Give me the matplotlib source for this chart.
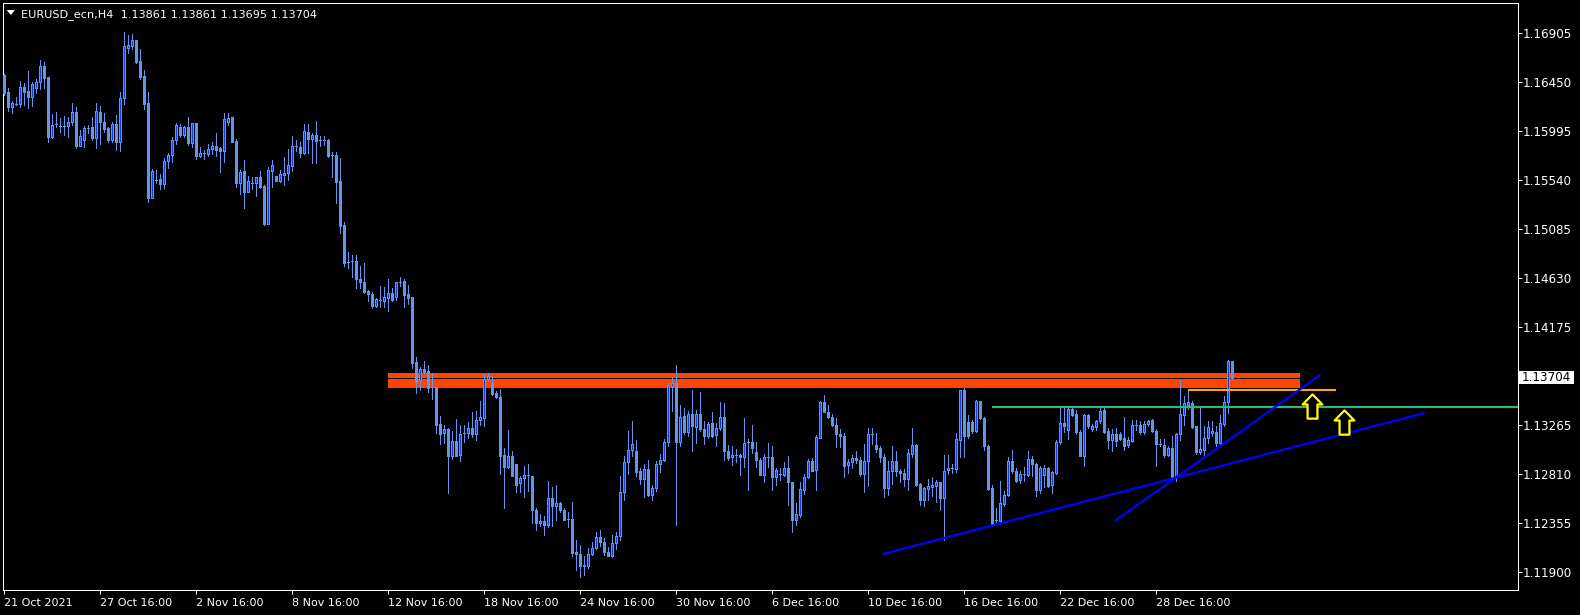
import matplotlib
matplotlib.use("Agg")
import matplotlib.pyplot as plt
import matplotlib.transforms as mtransforms
from matplotlib.patches import Polygon, Rectangle
from matplotlib.path import Path
import numpy as np

plt.rcParams['font.family'] = ['DejaVu Sans']

# EURUSD_ecn H4 candles, bar 0 = 21 Oct 2021
symbol = "EURUSD_ecn"
timeframe = "H4"

opens = [
    1.16518, 1.16359, 1.16218, 1.16251, 1.16251, 1.16406, 1.16369, 1.16317, 1.16394, 1.16450,
    1.16598, 1.16499, 1.15945, 1.16059, 1.16040, 1.16040, 1.16040, 1.16078, 1.16171, 1.15861,
    1.15910, 1.16028, 1.16034, 1.15935, 1.16171, 1.16081, 1.16025, 1.15917, 1.16059, 1.15892,
    1.16301, 1.16772, 1.16790, 1.16843, 1.16648, 1.16508, 1.16257, 1.15378, 1.15545, 1.15554,
    1.15508, 1.15719, 1.15774, 1.15910, 1.16037, 1.15960, 1.16031, 1.15882, 1.16072, 1.15768,
    1.15793, 1.15787, 1.15827, 1.15858, 1.15843, 1.15815, 1.16084, 1.16127, 1.15904, 1.15517,
    1.15626, 1.15434, 1.15511, 1.15511, 1.15566, 1.15486, 1.15133, 1.15629, 1.15579, 1.15532,
    1.15591, 1.15604, 1.15675, 1.15861, 1.15852, 1.15796, 1.15987, 1.15926, 1.15963, 1.15913,
    1.15913, 1.15913, 1.15774, 1.15774, 1.15532, 1.15124, 1.14780, 1.14787, 1.14787, 1.14622,
    1.14595, 1.14511, 1.14482, 1.14374, 1.14427, 1.14415, 1.14446, 1.14489, 1.14452, 1.14595,
    1.14601, 1.14482, 1.14452, 1.13851, 1.13684, 1.13783, 1.13765, 1.13616, 1.13616, 1.13275,
    1.13189, 1.13225, 1.12978, 1.13114, 1.12984, 1.13189, 1.13189, 1.13235, 1.13177, 1.13307,
    1.13331, 1.13691, 1.13653, 1.13565, 1.13523, 1.12983, 1.12872, 1.12977, 1.12903, 1.12723,
    1.12767, 1.12798, 1.12791, 1.12476, 1.12349, 1.12371, 1.12330, 1.12587, 1.12506, 1.12542,
    1.12476, 1.12389, 1.12389, 1.12079, 1.12067, 1.11961, 1.11949, 1.12060, 1.12117, 1.12222,
    1.12178, 1.12085, 1.12042, 1.12166, 1.12228, 1.12636, 1.12915, 1.13027, 1.13024, 1.12840,
    1.12760, 1.12856, 1.12614, 1.12677, 1.12900, 1.12936, 1.13104, 1.13628, 1.13653, 1.13101,
    1.13349, 1.13194, 1.13364, 1.13244, 1.13364, 1.13225, 1.13163, 1.13281, 1.13166, 1.13234,
    1.13336, 1.13024, 1.12962, 1.12983, 1.12987, 1.12962, 1.13101, 1.13107, 1.13015, 1.12941,
    1.12801, 1.12966, 1.12966, 1.12776, 1.12808, 1.12798, 1.12866, 1.12736, 1.12383, 1.12429,
    1.12662, 1.12779, 1.12931, 1.12841, 1.13145, 1.13479, 1.13386, 1.13340, 1.13266, 1.13182,
    1.13164, 1.12888, 1.12919, 1.12960, 1.12941, 1.12811, 1.12925, 1.13179, 1.13080, 1.13049,
    1.12966, 1.12674, 1.12832, 1.12931, 1.12838, 1.12820, 1.12764, 1.12996, 1.13077, 1.12715,
    1.12569, 1.12671, 1.12684, 1.12699, 1.12734, 1.12588, 1.12841, 1.12860, 1.12854, 1.13126,
    1.13591, 1.13294, 1.13287, 1.13204, 1.13482, 1.13327, 1.13071, 1.12677, 1.12382, 1.12368,
    1.12532, 1.12608, 1.12931, 1.12838, 1.12748, 1.12804, 1.12795, 1.12947, 1.12903, 1.12661,
    1.12801, 1.12862, 1.12702, 1.12816, 1.13101, 1.13281, 1.13219, 1.13411, 1.13364, 1.13201,
    1.12977, 1.13358, 1.13225, 1.13243, 1.13297, 1.13405, 1.13210, 1.13126, 1.13182, 1.13182,
    1.13145, 1.13074, 1.13113, 1.13262, 1.13262, 1.13194, 1.13268, 1.13311, 1.13210, 1.13088,
    1.13080, 1.12986, 1.13049, 1.12779, 1.13179, 1.13358, 1.13451, 1.13466, 1.13256, 1.13008,
    1.13027, 1.13138, 1.13188, 1.13194, 1.13094, 1.13275, 1.13473, 1.13861,
]
highs = [
    1.16524, 1.16394, 1.16276, 1.16313, 1.16461, 1.16440, 1.16555, 1.16450, 1.16480, 1.16657,
    1.16635, 1.16499, 1.16152, 1.16171, 1.16115, 1.16140, 1.16130, 1.16254, 1.16221, 1.16006,
    1.16040, 1.16053, 1.16127, 1.16254, 1.16232, 1.16161, 1.16037, 1.16078, 1.16146, 1.16356,
    1.16917, 1.16889, 1.16902, 1.16846, 1.16759, 1.16561, 1.16356, 1.15644, 1.15635, 1.15595,
    1.15750, 1.15793, 1.15942, 1.16072, 1.16066, 1.16047, 1.16130, 1.16075, 1.16075, 1.15849,
    1.15824, 1.15880, 1.15898, 1.15982, 1.15852, 1.16165, 1.16165, 1.16127, 1.15923, 1.15632,
    1.15731, 1.15582, 1.15566, 1.15566, 1.15626, 1.15496, 1.15665, 1.15728, 1.15579, 1.15635,
    1.15758, 1.15830, 1.15951, 1.15913, 1.15898, 1.16062, 1.16062, 1.15982, 1.16090, 1.15951,
    1.15951, 1.15920, 1.15805, 1.15805, 1.15743, 1.15155, 1.14870, 1.14845, 1.14845, 1.14743,
    1.14768, 1.14520, 1.14504, 1.14443, 1.14551, 1.14545, 1.14619, 1.14536, 1.14597, 1.14638,
    1.14619, 1.14567, 1.14458, 1.13900, 1.13801, 1.13854, 1.13823, 1.13746, 1.13616, 1.13343,
    1.13266, 1.13235, 1.13204, 1.13318, 1.13266, 1.13266, 1.13288, 1.13381, 1.13390, 1.13483,
    1.13740, 1.13746, 1.13720, 1.13581, 1.13596, 1.13049, 1.13218, 1.13024, 1.12903, 1.12791,
    1.12878, 1.12903, 1.12791, 1.12495, 1.12438, 1.12415, 1.12746, 1.12687, 1.12708, 1.12548,
    1.12495, 1.12451, 1.12550, 1.12197, 1.12150, 1.12048, 1.12120, 1.12178, 1.12265, 1.12290,
    1.12209, 1.12126, 1.12244, 1.12268, 1.12785, 1.12971, 1.13212, 1.13305, 1.13120, 1.12862,
    1.12903, 1.12940, 1.12708, 1.12925, 1.12996, 1.13132, 1.13653, 1.13714, 1.13822, 1.13451,
    1.13420, 1.13389, 1.13590, 1.13405, 1.13571, 1.13297, 1.13287, 1.13386, 1.13281, 1.13476,
    1.13466, 1.13080, 1.13071, 1.13040, 1.12996, 1.13330, 1.13132, 1.13266, 1.13107, 1.12960,
    1.12997, 1.13095, 1.13071, 1.12860, 1.12863, 1.12919, 1.12977, 1.12736, 1.12538, 1.12736,
    1.12811, 1.12950, 1.12956, 1.13173, 1.13489, 1.13545, 1.13451, 1.13368, 1.13327, 1.13225,
    1.13189, 1.12947, 1.12983, 1.13024, 1.12966, 1.13089, 1.13234, 1.13234, 1.13189, 1.13065,
    1.12997, 1.12925, 1.13071, 1.13018, 1.12853, 1.12853, 1.13043, 1.13234, 1.13090, 1.12724,
    1.12687, 1.12761, 1.12776, 1.12754, 1.12734, 1.12987, 1.12987, 1.12903, 1.13189, 1.13591,
    1.13606, 1.13359, 1.13306, 1.13491, 1.13482, 1.13333, 1.13080, 1.12708, 1.12491, 1.12738,
    1.12646, 1.12964, 1.13033, 1.12862, 1.12832, 1.12872, 1.13017, 1.12972, 1.12909, 1.12878,
    1.12894, 1.12869, 1.12832, 1.13120, 1.13420, 1.13420, 1.13420, 1.13420, 1.13405, 1.13219,
    1.13364, 1.13367, 1.13275, 1.13311, 1.13420, 1.13420, 1.13234, 1.13225, 1.13234, 1.13198,
    1.13342, 1.13151, 1.13306, 1.13311, 1.13297, 1.13297, 1.13311, 1.13317, 1.13225, 1.13132,
    1.13132, 1.13064, 1.13157, 1.13188, 1.13684, 1.13529, 1.13584, 1.13482, 1.13256, 1.13435,
    1.13250, 1.13297, 1.13297, 1.13250, 1.13358, 1.13529, 1.13869, 1.13861,
]
lows = [
    1.16332, 1.16183, 1.16168, 1.16238, 1.16223, 1.16238, 1.16214, 1.16232, 1.16347, 1.16384,
    1.16400, 1.15898, 1.15929, 1.16037, 1.15985, 1.15960, 1.15939, 1.16053, 1.15842, 1.15858,
    1.15846, 1.15976, 1.15917, 1.15842, 1.15874, 1.15985, 1.15898, 1.15892, 1.15824, 1.15812,
    1.16245, 1.16719, 1.16756, 1.16632, 1.16480, 1.16202, 1.15341, 1.15372, 1.15512, 1.15455,
    1.15465, 1.15650, 1.15706, 1.15877, 1.15945, 1.15942, 1.15868, 1.15852, 1.15738, 1.15758,
    1.15738, 1.15768, 1.15780, 1.15768, 1.15614, 1.15713, 1.16053, 1.15898, 1.15480, 1.15415,
    1.15279, 1.15427, 1.15455, 1.15397, 1.15464, 1.15124, 1.15130, 1.15480, 1.15532, 1.15526,
    1.15496, 1.15541, 1.15629, 1.15814, 1.15758, 1.15783, 1.15796, 1.15697, 1.15703, 1.15861,
    1.15867, 1.15758, 1.15573, 1.15325, 1.15047, 1.14746, 1.14721, 1.14638, 1.14535, 1.14535,
    1.14489, 1.14418, 1.14349, 1.14358, 1.14365, 1.14365, 1.14319, 1.14412, 1.14427, 1.14551,
    1.14359, 1.14390, 1.13792, 1.13560, 1.13591, 1.13746, 1.13566, 1.13505, 1.13189, 1.13089,
    1.13095, 1.12631, 1.12946, 1.12971, 1.12926, 1.13102, 1.13142, 1.13151, 1.13127, 1.13266,
    1.13257, 1.13685, 1.13543, 1.13510, 1.12810, 1.12488, 1.12862, 1.12785, 1.12636, 1.12636,
    1.12591, 1.12646, 1.12352, 1.12290, 1.12327, 1.12244, 1.12311, 1.12327, 1.12383, 1.12451,
    1.12376, 1.12311, 1.12042, 1.11912, 1.11850, 1.11871, 1.11930, 1.12054, 1.12110, 1.12142,
    1.12054, 1.12042, 1.12032, 1.12114, 1.12197, 1.12569, 1.12810, 1.12971, 1.12792, 1.12718,
    1.12594, 1.12606, 1.12569, 1.12646, 1.12823, 1.12930, 1.13064, 1.13398, 1.12336, 1.13064,
    1.13182, 1.13157, 1.13017, 1.13094, 1.13212, 1.13082, 1.13141, 1.13151, 1.13064, 1.13218,
    1.12939, 1.12939, 1.12894, 1.12916, 1.12801, 1.12872, 1.12655, 1.13002, 1.12872, 1.12801,
    1.12736, 1.12872, 1.12655, 1.12709, 1.12754, 1.12786, 1.12522, 1.12265, 1.12337, 1.12408,
    1.12624, 1.12770, 1.12831, 1.12655, 1.13139, 1.13380, 1.13324, 1.13256, 1.13055, 1.13058,
    1.12779, 1.12817, 1.12860, 1.12910, 1.12792, 1.12637, 1.12693, 1.13089, 1.13015, 1.12916,
    1.12594, 1.12615, 1.12718, 1.12792, 1.12729, 1.12693, 1.12655, 1.12966, 1.12699, 1.12522,
    1.12513, 1.12563, 1.12599, 1.12544, 1.12470, 1.12197, 1.12807, 1.12817, 1.12823, 1.12966,
    1.12966, 1.13139, 1.13188, 1.13194, 1.13317, 1.13033, 1.12655, 1.12336, 1.12352, 1.12358,
    1.12507, 1.12600, 1.12816, 1.12729, 1.12723, 1.12738, 1.12785, 1.12792, 1.12600, 1.12630,
    1.12686, 1.12686, 1.12630, 1.12810, 1.13088, 1.13194, 1.13132, 1.13349, 1.13182, 1.12971,
    1.12884, 1.13234, 1.13204, 1.13218, 1.13281, 1.13188, 1.13049, 1.13017, 1.13064, 1.13126,
    1.13033, 1.13058, 1.13101, 1.13218, 1.13182, 1.13182, 1.13256, 1.13194, 1.12884, 1.13064,
    1.12964, 1.12977, 1.12754, 1.12738, 1.13120, 1.13265, 1.13411, 1.13234, 1.12996, 1.12996,
    1.12971, 1.13094, 1.13163, 1.13064, 1.13080, 1.13250, 1.13374, 1.13695,
]
closes = [
    1.16347, 1.16223, 1.16254, 1.16251, 1.16406, 1.16362, 1.16317, 1.16431, 1.16450, 1.16598,
    1.16493, 1.15945, 1.16053, 1.16059, 1.16040, 1.16040, 1.16078, 1.16171, 1.15861, 1.15948,
    1.16022, 1.16028, 1.15929, 1.16180, 1.16084, 1.16019, 1.15917, 1.16059, 1.15892, 1.16301,
    1.16784, 1.16797, 1.16843, 1.16635, 1.16502, 1.16248, 1.15378, 1.15625, 1.15545, 1.15505,
    1.15719, 1.15774, 1.15910, 1.16053, 1.15960, 1.16031, 1.15882, 1.16072, 1.15768, 1.15793,
    1.15793, 1.15827, 1.15858, 1.15824, 1.15815, 1.16105, 1.16118, 1.15898, 1.15517, 1.15617,
    1.15434, 1.15532, 1.15511, 1.15566, 1.15480, 1.15133, 1.15635, 1.15681, 1.15532, 1.15598,
    1.15610, 1.15681, 1.15858, 1.15861, 1.15796, 1.15993, 1.15923, 1.15963, 1.15907, 1.15913,
    1.15913, 1.15764, 1.15774, 1.15526, 1.15114, 1.14774, 1.14780, 1.14787, 1.14625, 1.14589,
    1.14504, 1.14482, 1.14374, 1.14433, 1.14427, 1.14452, 1.14489, 1.14427, 1.14595, 1.14595,
    1.14476, 1.14446, 1.13839, 1.13659, 1.13783, 1.13759, 1.13607, 1.13616, 1.13266, 1.13183,
    1.13225, 1.12978, 1.13114, 1.12978, 1.13183, 1.13189, 1.13235, 1.13177, 1.13312, 1.13337,
    1.13691, 1.13722, 1.13553, 1.13519, 1.12977, 1.12872, 1.12977, 1.12791, 1.12708, 1.12773,
    1.12798, 1.12798, 1.12470, 1.12352, 1.12371, 1.12330, 1.12587, 1.12506, 1.12542, 1.12470,
    1.12383, 1.12389, 1.12070, 1.12060, 1.11949, 1.11949, 1.12067, 1.12120, 1.12222, 1.12172,
    1.12079, 1.12048, 1.12166, 1.12234, 1.12640, 1.12922, 1.13033, 1.13085, 1.12828, 1.12760,
    1.12856, 1.12614, 1.12677, 1.12900, 1.12936, 1.13104, 1.13628, 1.13653, 1.13101, 1.13336,
    1.13194, 1.13364, 1.13250, 1.13364, 1.13225, 1.13163, 1.13275, 1.13163, 1.13234, 1.13336,
    1.13017, 1.12956, 1.12987, 1.12983, 1.12962, 1.13095, 1.13101, 1.13046, 1.12935, 1.12801,
    1.12966, 1.12966, 1.12776, 1.12847, 1.12808, 1.12863, 1.12729, 1.12383, 1.12436, 1.12671,
    1.12783, 1.12931, 1.12838, 1.13151, 1.13479, 1.13386, 1.13333, 1.13266, 1.13182, 1.13157,
    1.12885, 1.12919, 1.12960, 1.12935, 1.12811, 1.12931, 1.13179, 1.13179, 1.13043, 1.12966,
    1.12674, 1.12836, 1.12931, 1.12832, 1.12814, 1.12764, 1.13002, 1.13077, 1.12709, 1.12569,
    1.12677, 1.12693, 1.12705, 1.12734, 1.12588, 1.12832, 1.12866, 1.12860, 1.13132, 1.13584,
    1.13164, 1.13164, 1.13204, 1.13482, 1.13327, 1.13064, 1.12668, 1.12346, 1.12382, 1.12538,
    1.12615, 1.12931, 1.12832, 1.12739, 1.12810, 1.12804, 1.12947, 1.12900, 1.12655, 1.12862,
    1.12862, 1.12699, 1.12826, 1.13101, 1.13281, 1.13256, 1.13411, 1.13358, 1.13194, 1.12977,
    1.13358, 1.13256, 1.13256, 1.13302, 1.13395, 1.13194, 1.13126, 1.13182, 1.13110, 1.13132,
    1.13071, 1.13120, 1.13262, 1.13262, 1.13194, 1.13275, 1.13302, 1.13204, 1.13091, 1.13088,
    1.12986, 1.13049, 1.12779, 1.13179, 1.13364, 1.13466, 1.13473, 1.13243, 1.13008, 1.13039,
    1.13141, 1.13243, 1.13204, 1.13094, 1.13281, 1.13476, 1.13854, 1.13704,
]

time_labels = ["21 Oct 2021", "27 Oct 16:00", "2 Nov 16:00", "8 Nov 16:00", "12 Nov 16:00",
               "18 Nov 16:00", "24 Nov 16:00", "30 Nov 16:00", "6 Dec 16:00", "10 Dec 16:00",
               "16 Dec 16:00", "22 Dec 16:00", "28 Dec 16:00"]
time_label_bars = [0, 24, 48, 72, 96, 120, 144, 168, 192, 216, 240, 264, 288]
price_ticks = [1.16905, 1.16450, 1.15995, 1.15540, 1.15085, 1.14630, 1.14175,
               1.13265, 1.12810, 1.12355, 1.11900]

# objects drawn on the chart (bar index, price)
zone_bars = [96, 324]
zone_upper = [1.13703, 1.13746]
zone_lower = [1.13610, 1.13691]
green_start, green_price = 247, 1.13433
orange_bars, orange_price = [296, 333], 1.13591
trend_a_bars, trend_a_prices = [278, 329], [1.12375, 1.13723]
trend_b_bars, trend_b_prices = [220, 355], [1.12065, 1.13372]
arrow_bars = [327, 335]
arrow_prices = [1.13444, 1.13291]

CANDLE = '#6495ED'
BULL_FILL = '#0a3cf0'

W, H = 1580, 615
left_px, right_px, top_px, bottom_px = 3, 1518, 3, 590

fig = plt.figure(figsize=(W / 100, H / 100), dpi=100)
fig.patch.set_facecolor('black')
ax = fig.add_axes([left_px / W, 1 - bottom_px / H,
                   (right_px - left_px) / W, (bottom_px - top_px) / H])
ax.set_facecolor('black')

o = np.array(opens)
h = np.array(highs)
l = np.array(lows)
c = np.array(closes)
x = np.arange(len(c))
bull = c > o

# candles
ax.vlines(x, l, h, color=CANDLE, lw=0.72, antialiased=False, zorder=2)
ax.bar(x[~bull], (o - c)[~bull], bottom=c[~bull], width=0.5, color=CANDLE,
       edgecolor=CANDLE, lw=0.72, antialiased=False, zorder=3)
ax.bar(x[bull], (c - o)[bull], bottom=o[bull], width=0.5, color=BULL_FILL,
       edgecolor=CANDLE, lw=0.72, antialiased=False, zorder=3)

xmin = -0.125
xmax = xmin + (right_px - left_px) / 4
ax.set_xlim(xmin, xmax)
ax.set_ylim(1.11729, 1.17187)

# resistance zone
for lo, hi in [zone_upper, zone_lower]:
    ax.add_patch(Rectangle((zone_bars[0], lo), zone_bars[1] - zone_bars[0], hi - lo,
                           facecolor='#FF4500', edgecolor='none', zorder=1))

ax.hlines(green_price, green_start, xmax, color='#3CB371', lw=1.6, zorder=4)
ax.hlines(orange_price, orange_bars[0], orange_bars[1], color='#FFA500', lw=1.5, zorder=4)
ax.plot(trend_a_bars, trend_a_prices, color='#0000FF', lw=1.6, zorder=4)
ax.plot(trend_b_bars, trend_b_prices, color='#0000FF', lw=1.6, zorder=4)

arrow_path = Path([(0, 0.5), (0.403, 0.083), (0.203, 0.083), (0.203, -0.5),
                   (-0.203, -0.5), (-0.203, 0.083), (-0.403, 0.083), (0, 0.5)],
                  [Path.MOVETO] + [Path.LINETO] * 6 + [Path.CLOSEPOLY])
ax.plot(arrow_bars, arrow_prices, ls='none', marker=arrow_path, markersize=17.5,
        markerfacecolor='black', markeredgecolor='#FFFF00', markeredgewidth=1.6, zorder=6)

# frame and axes
for s in ax.spines.values():
    s.set_color('white')
    s.set_linewidth(0.72)

ax.set_xticks(time_label_bars)
ax.set_xticklabels(time_labels, ha='left')
shift = mtransforms.ScaledTranslation(-3 / 100, 0, fig.dpi_scale_trans)
for t in ax.get_xticklabels():
    t.set_transform(t.get_transform() + shift)
ax.tick_params(axis='x', colors='white', direction='out', length=3, width=0.72,
               pad=2.5, labelsize=8)

ax.yaxis.tick_right()
ax.set_yticks(price_ticks)
ax.set_yticklabels([f"{p:.5f}" for p in price_ticks])
ax.tick_params(axis='y', colors='white', direction='out', length=3, width=0.72,
               pad=0.5, labelsize=8.6)

# current price label
last = c[-1]
per_px = (1.17187 - 1.11729) / (bottom_px - top_px)
blend = mtransforms.blended_transform_factory(ax.transAxes, ax.transData)
ax.add_patch(Rectangle((1.0, last - 6.5 * per_px), 56 / (right_px - left_px), 13 * per_px,
                       transform=blend, facecolor='white', edgecolor='none', clip_on=False, zorder=7))
ax.text(1.0 + 4 / (right_px - left_px), last, f"{last:.5f}", transform=blend, color='black',
        ha='left', va='center', fontsize=8.6, clip_on=False, zorder=8)

# header
header = f"{symbol},{timeframe}  {o[-1]:.5f} {h[-1]:.5f} {l[-1]:.5f} {c[-1]:.5f}"
fig.text(21 / W, 1 - 17.3 / H, header, color='white', fontsize=8.15, ha='left', va='baseline')
fig.add_artist(Polygon([[6.7 / W, 1 - 10 / H], [15 / W, 1 - 10 / H], [10.85 / W, 1 - 15 / H]],
                       closed=True, transform=fig.transFigure, facecolor='white', edgecolor='none'))

fig.savefig('out.png', dpi=100, facecolor='black')
